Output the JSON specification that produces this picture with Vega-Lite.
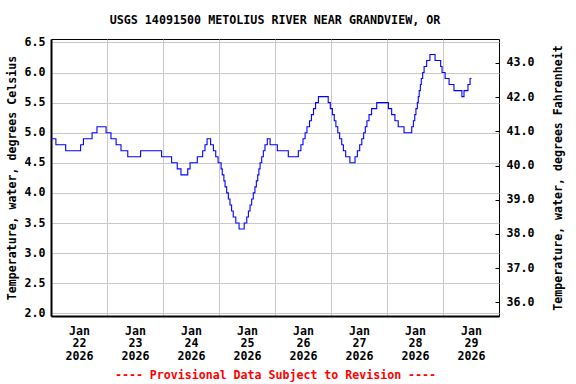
{
  "$schema": "https://vega.github.io/schema/vega-lite/v6.json",
  "width": 448,
  "height": 277,
  "autosize": {"type": "none"},
  "padding": {"left": 51, "top": 39, "right": 77, "bottom": 68},
  "background": "white",
  "config": {
    "font": "DejaVu Sans Mono",
    "view": {"stroke": "#000000", "strokeWidth": 1},
    "axis": {
      "labelFont": "DejaVu Sans Mono",
      "labelFontWeight": "bold",
      "labelFontSize": 11.6,
      "labelColor": "#000000",
      "titleFont": "DejaVu Sans Mono",
      "titleFontWeight": "bold",
      "titleFontSize": 11.6,
      "titleColor": "#000000",
      "gridColor": "#c8c8c8",
      "gridWidth": 1,
      "gridOpacity": 1
    }
  },
  "title": {
    "text": "USGS 14091500 METOLIUS RIVER NEAR GRANDVIEW, OR",
    "font": "DejaVu Sans Mono",
    "fontSize": 11.7,
    "fontWeight": "bold",
    "anchor": "middle",
    "offset": 10,
    "color": "#000000"
  },
  "layer": [
    {
      "data": {
        "values": [
          {"time": "2026-01-22T00:00:00", "temp_c": 4.9},
          {"time": "2026-01-22T02:06:00", "temp_c": 4.8},
          {"time": "2026-01-22T06:18:00", "temp_c": 4.7},
          {"time": "2026-01-22T12:42:00", "temp_c": 4.8},
          {"time": "2026-01-22T13:54:00", "temp_c": 4.9},
          {"time": "2026-01-22T17:36:00", "temp_c": 5.0},
          {"time": "2026-01-22T19:42:00", "temp_c": 5.1},
          {"time": "2026-01-22T23:36:00", "temp_c": 5.0},
          {"time": "2026-01-23T01:42:00", "temp_c": 4.9},
          {"time": "2026-01-23T03:54:00", "temp_c": 4.8},
          {"time": "2026-01-23T06:00:00", "temp_c": 4.7},
          {"time": "2026-01-23T08:54:00", "temp_c": 4.6},
          {"time": "2026-01-23T14:24:00", "temp_c": 4.7},
          {"time": "2026-01-23T23:24:00", "temp_c": 4.6},
          {"time": "2026-01-24T03:42:00", "temp_c": 4.5},
          {"time": "2026-01-24T06:06:00", "temp_c": 4.4},
          {"time": "2026-01-24T07:42:00", "temp_c": 4.3},
          {"time": "2026-01-24T10:36:00", "temp_c": 4.4},
          {"time": "2026-01-24T11:36:00", "temp_c": 4.5},
          {"time": "2026-01-24T14:42:00", "temp_c": 4.6},
          {"time": "2026-01-24T17:00:00", "temp_c": 4.7},
          {"time": "2026-01-24T18:00:00", "temp_c": 4.8},
          {"time": "2026-01-24T18:54:00", "temp_c": 4.9},
          {"time": "2026-01-24T20:24:00", "temp_c": 4.8},
          {"time": "2026-01-24T21:36:00", "temp_c": 4.7},
          {"time": "2026-01-24T22:36:00", "temp_c": 4.6},
          {"time": "2026-01-24T23:36:00", "temp_c": 4.5},
          {"time": "2026-01-25T00:54:00", "temp_c": 4.4},
          {"time": "2026-01-25T01:24:00", "temp_c": 4.3},
          {"time": "2026-01-25T02:06:00", "temp_c": 4.2},
          {"time": "2026-01-25T02:36:00", "temp_c": 4.1},
          {"time": "2026-01-25T03:18:00", "temp_c": 4.0},
          {"time": "2026-01-25T04:00:00", "temp_c": 3.9},
          {"time": "2026-01-25T04:42:00", "temp_c": 3.8},
          {"time": "2026-01-25T05:24:00", "temp_c": 3.7},
          {"time": "2026-01-25T06:06:00", "temp_c": 3.6},
          {"time": "2026-01-25T07:12:00", "temp_c": 3.5},
          {"time": "2026-01-25T08:36:00", "temp_c": 3.4},
          {"time": "2026-01-25T10:48:00", "temp_c": 3.5},
          {"time": "2026-01-25T11:54:00", "temp_c": 3.6},
          {"time": "2026-01-25T12:36:00", "temp_c": 3.7},
          {"time": "2026-01-25T13:18:00", "temp_c": 3.8},
          {"time": "2026-01-25T14:00:00", "temp_c": 3.9},
          {"time": "2026-01-25T14:42:00", "temp_c": 4.0},
          {"time": "2026-01-25T15:24:00", "temp_c": 4.1},
          {"time": "2026-01-25T16:00:00", "temp_c": 4.2},
          {"time": "2026-01-25T16:36:00", "temp_c": 4.3},
          {"time": "2026-01-25T17:06:00", "temp_c": 4.4},
          {"time": "2026-01-25T17:36:00", "temp_c": 4.5},
          {"time": "2026-01-25T18:18:00", "temp_c": 4.6},
          {"time": "2026-01-25T19:00:00", "temp_c": 4.7},
          {"time": "2026-01-25T19:42:00", "temp_c": 4.8},
          {"time": "2026-01-25T20:42:00", "temp_c": 4.9},
          {"time": "2026-01-25T21:54:00", "temp_c": 4.8},
          {"time": "2026-01-26T01:00:00", "temp_c": 4.7},
          {"time": "2026-01-26T05:42:00", "temp_c": 4.6},
          {"time": "2026-01-26T10:00:00", "temp_c": 4.7},
          {"time": "2026-01-26T11:06:00", "temp_c": 4.8},
          {"time": "2026-01-26T12:00:00", "temp_c": 4.9},
          {"time": "2026-01-26T12:54:00", "temp_c": 5.0},
          {"time": "2026-01-26T13:42:00", "temp_c": 5.1},
          {"time": "2026-01-26T14:48:00", "temp_c": 5.2},
          {"time": "2026-01-26T15:36:00", "temp_c": 5.3},
          {"time": "2026-01-26T16:30:00", "temp_c": 5.4},
          {"time": "2026-01-26T17:24:00", "temp_c": 5.5},
          {"time": "2026-01-26T18:36:00", "temp_c": 5.6},
          {"time": "2026-01-26T22:48:00", "temp_c": 5.5},
          {"time": "2026-01-26T23:42:00", "temp_c": 5.4},
          {"time": "2026-01-27T00:36:00", "temp_c": 5.3},
          {"time": "2026-01-27T01:24:00", "temp_c": 5.2},
          {"time": "2026-01-27T02:06:00", "temp_c": 5.1},
          {"time": "2026-01-27T02:54:00", "temp_c": 5.0},
          {"time": "2026-01-27T03:42:00", "temp_c": 4.9},
          {"time": "2026-01-27T04:36:00", "temp_c": 4.8},
          {"time": "2026-01-27T05:18:00", "temp_c": 4.7},
          {"time": "2026-01-27T06:18:00", "temp_c": 4.6},
          {"time": "2026-01-27T08:06:00", "temp_c": 4.5},
          {"time": "2026-01-27T10:18:00", "temp_c": 4.6},
          {"time": "2026-01-27T11:18:00", "temp_c": 4.7},
          {"time": "2026-01-27T12:18:00", "temp_c": 4.8},
          {"time": "2026-01-27T13:12:00", "temp_c": 4.9},
          {"time": "2026-01-27T14:00:00", "temp_c": 5.0},
          {"time": "2026-01-27T14:42:00", "temp_c": 5.1},
          {"time": "2026-01-27T15:24:00", "temp_c": 5.2},
          {"time": "2026-01-27T16:18:00", "temp_c": 5.3},
          {"time": "2026-01-27T17:24:00", "temp_c": 5.4},
          {"time": "2026-01-27T19:36:00", "temp_c": 5.5},
          {"time": "2026-01-28T00:36:00", "temp_c": 5.4},
          {"time": "2026-01-28T02:00:00", "temp_c": 5.3},
          {"time": "2026-01-28T03:24:00", "temp_c": 5.2},
          {"time": "2026-01-28T04:48:00", "temp_c": 5.1},
          {"time": "2026-01-28T07:18:00", "temp_c": 5.0},
          {"time": "2026-01-28T10:36:00", "temp_c": 5.1},
          {"time": "2026-01-28T11:18:00", "temp_c": 5.2},
          {"time": "2026-01-28T11:54:00", "temp_c": 5.3},
          {"time": "2026-01-28T12:24:00", "temp_c": 5.4},
          {"time": "2026-01-28T13:00:00", "temp_c": 5.5},
          {"time": "2026-01-28T13:24:00", "temp_c": 5.6},
          {"time": "2026-01-28T13:48:00", "temp_c": 5.7},
          {"time": "2026-01-28T14:18:00", "temp_c": 5.8},
          {"time": "2026-01-28T14:42:00", "temp_c": 5.9},
          {"time": "2026-01-28T15:18:00", "temp_c": 6.0},
          {"time": "2026-01-28T15:54:00", "temp_c": 6.1},
          {"time": "2026-01-28T17:00:00", "temp_c": 6.2},
          {"time": "2026-01-28T18:24:00", "temp_c": 6.3},
          {"time": "2026-01-28T20:36:00", "temp_c": 6.2},
          {"time": "2026-01-28T23:00:00", "temp_c": 6.1},
          {"time": "2026-01-28T23:36:00", "temp_c": 6.0},
          {"time": "2026-01-29T00:54:00", "temp_c": 5.9},
          {"time": "2026-01-29T02:36:00", "temp_c": 5.8},
          {"time": "2026-01-29T04:42:00", "temp_c": 5.7},
          {"time": "2026-01-29T08:06:00", "temp_c": 5.6},
          {"time": "2026-01-29T09:00:00", "temp_c": 5.7},
          {"time": "2026-01-29T10:42:00", "temp_c": 5.8},
          {"time": "2026-01-29T11:36:00", "temp_c": 5.9},
          {"time": "2026-01-29T12:12:00", "temp_c": 5.9}
        ]
      },
      "mark": {"type": "line", "interpolate": "step-after", "color": "#0000ff", "strokeWidth": 1.1},
      "encoding": {
        "x": {
          "field": "time",
          "type": "temporal",
          "scale": {"domain": [{"year": 2026, "month": 1, "date": 22}, {"year": 2026, "month": 1, "date": 30}]},
          "axis": {
            "values": [
              {"year": 2026, "month": 1, "date": 22},
              {"year": 2026, "month": 1, "date": 23},
              {"year": 2026, "month": 1, "date": 24},
              {"year": 2026, "month": 1, "date": 25},
              {"year": 2026, "month": 1, "date": 26},
              {"year": 2026, "month": 1, "date": 27},
              {"year": 2026, "month": 1, "date": 28},
              {"year": 2026, "month": 1, "date": 29}
            ],
            "labelExpr": "[timeFormat(datum.value, '%b'), timeFormat(datum.value, '%d'), timeFormat(datum.value, '%Y')]",
            "labelOffset": 28,
            "labelLineHeight": 12.5,
            "labelPadding": 9,
            "labelFlush": false,
            "labelOverlap": false,
            "ticks": false,
            "grid": true,
            "domainColor": "#000000",
            "domainWidth": 2,
            "title": "---- Provisional Data Subject to Revision ----",
            "titleColor": "#ff0000",
            "titlePadding": 8
          }
        },
        "y": {
          "field": "temp_c",
          "type": "quantitative",
          "scale": {"domain": [1.955, 6.557], "nice": false, "zero": false},
          "axis": {
            "values": [2.0, 2.5, 3.0, 3.5, 4.0, 4.5, 5.0, 5.5, 6.0, 6.5],
            "format": ".1f",
            "ticks": false,
            "labelPadding": 6,
            "grid": true,
            "domainColor": "#000000",
            "domainWidth": 2,
            "title": "Temperature, water, degrees Celsius",
            "titlePadding": 7
          }
        }
      }
    },
    {
      "data": {"values": [{}]},
      "mark": {"type": "rule", "opacity": 0},
      "encoding": {
        "y": {
          "datum": 40,
          "type": "quantitative",
          "scale": {"domain": [35.6, 43.7], "nice": false, "zero": false},
          "axis": {
            "orient": "right",
            "values": [36, 37, 38, 39, 40, 41, 42, 43],
            "format": ".1f",
            "grid": false,
            "domain": false,
            "ticks": true,
            "tickSize": -4,
            "tickColor": "#000000",
            "labelPadding": 11,
            "title": "Temperature, water, degrees Fahrenheit",
            "titleAngle": 270,
            "titlePadding": 30
          }
        }
      }
    }
  ],
  "resolve": {"scale": {"y": "independent"}}
}
